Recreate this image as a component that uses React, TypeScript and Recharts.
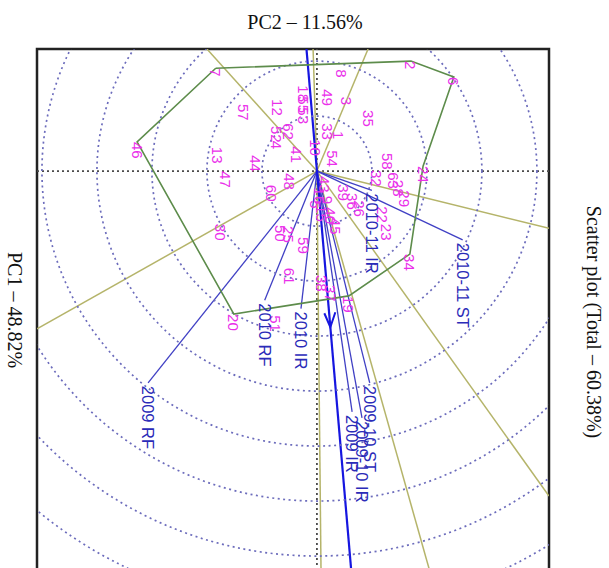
import {
  ReferenceArea,
  ReferenceDot,
  ReferenceLine,
  Scatter,
  ScatterChart,
  XAxis,
  YAxis,
} from 'recharts'

// rotated GGE biplot: PC2 runs left-right, PC1 runs top-down
const W = 609
const H = 620
const MARGIN = { top: 49, right: 60, bottom: 20, left: 37 }
const X_DOMAIN: [number, number] = [-5.09, 4.22]
const Y_DOMAIN: [number, number] = [-2.22, 7.8]
const PX_PER_UNIT = (W - MARGIN.left - MARGIN.right) / (X_DOMAIN[1] - X_DOMAIN[0])

// genotype scores [label, PC2, PC1]
const genotypes: [string, number, number][] = [
  ['7', -1.84, -1.87],
  ['2', 1.71, -2.0],
  ['6', 2.49, -1.71],
  ['8', 0.44, -1.85],
  ['49', 0.2, -1.49],
  ['3', 0.53, -1.35],
  ['35', 0.93, -1.11],
  ['18', -0.25, -1.56],
  ['55', -0.25, -1.36],
  ['53', -0.25, -1.16],
  ['57', -1.33, -1.22],
  ['12', -0.71, -1.31],
  ['62', -0.51, -0.87],
  ['52', -0.73, -0.82],
  ['4', -0.73, -0.55],
  ['41', -0.38, -0.45],
  ['10', -0.02, -0.58],
  ['33', 0.2, -0.87],
  ['1', 0.4, -0.73],
  ['54', 0.29, -0.38],
  ['46', -3.27, -0.53],
  ['13', -1.8, -0.44],
  ['47', -1.67, 0.0],
  ['44', -1.11, -0.29],
  ['48', -0.49, 0.04],
  ['60', -0.82, 0.25],
  ['30', -1.75, 0.96],
  ['50', -0.67, 0.98],
  ['25', -0.51, 1.0],
  ['59', -0.24, 1.2],
  ['61', -0.49, 1.76],
  ['20', -1.51, 2.6],
  ['51', -0.75, 2.62],
  ['38', 0.09, 1.89],
  ['37', 0.25, 2.07],
  ['19', 0.58, 2.27],
  ['34', 1.69, 1.51],
  ['24', 1.93, -0.09],
  ['58', 1.29, -0.33],
  ['32', 1.09, -0.02],
  ['63', 1.4, 0.02],
  ['28', 1.49, 0.16],
  ['29', 1.6, 0.35],
  ['39', 0.49, 0.24],
  ['36', 0.65, 0.4],
  ['26', 0.78, 0.53],
  ['22', 1.2, 0.64],
  ['23', 1.27, 0.96],
  ['43', 0.13, 0.09],
  ['5', -0.02, 0.53],
  ['45', 0.33, 0.85],
  ['15', 0.09, 0.62],
  ['9', 0.2, 0.45],
  ['16', 0.05, 0.3],
  ['40', 0.24, 0.66],
]

// convex hull (which-won-where polygon)
const hullOrder = ['7', '2', '6', '24', '34', '19', '20', '46', '7']

// environment vectors [label, PC2, PC1]
const environments: [string, number, number][] = [
  ['2010-11 ST', 2.65, 1.25],
  ['2010-11 IR', 1.0, 0.35],
  ['2010 IR', -0.29, 2.5],
  ['2010 RF', -0.95, 2.35],
  ['2009 RF', -3.07, 3.85],
  ['2009-10 ST', 0.96, 3.85],
  ['2009 IR', 0.64, 4.38],
  ['2009-10 IR', 0.82, 4.49],
]

// sector boundaries, perpendicular to hull edges, drawn from origin
const sectorRays: [number, number][] = [
  [-2.0, -2.22],
  [-0.07, -2.22],
  [0.93, -2.22],
  [4.22, 1.04],
  [4.22, 5.91],
  [2.2, 7.8],
  [0.08, 7.8],
  [-5.09, 2.87],
]

// average environment axis
const aecLine: [number, number][] = [
  [-0.19, -2.22],
  [0.67, 7.8],
]
const aecArrow = [{ x: 0.244, y: 2.84 }]

const ringRadii = [1, 2, 3, 4, 5, 6, 7, 8]

const genoData = genotypes.map(([name, x, y]) => ({ name, x, y }))
const envData = environments.map(([name, x, y]) => ({ name, x, y }))
const hullData = hullOrder.map((n) => {
  const g = genotypes.find((d) => d[0] === n)!
  return { x: g[1], y: g[2] }
})

const MAGENTA = '#ea30ea'
const BLUE = '#2b2bb8'

function GenoLabel(props: any) {
  const { cx, cy, payload } = props
  return (
    <text
      x={cx}
      y={cy}
      transform={`rotate(90 ${cx} ${cy})`}
      fill={MAGENTA}
      fontSize={15}
      fontFamily="'Liberation Sans', Arial, sans-serif"
      dominantBaseline="central"
    >
      {payload.name}
    </text>
  )
}

function EnvLabel(props: any) {
  const { cx, cy, payload } = props
  return (
    <text
      x={cx + 3}
      y={cy}
      transform={`rotate(90 ${cx} ${cy})`}
      fill={BLUE}
      fontSize={16.5}
      fontFamily="'Liberation Sans', Arial, sans-serif"
      dominantBaseline="central"
    >
      {payload.name}
    </text>
  )
}

function ArrowHead(props: any) {
  const { cx, cy } = props
  return (
    <path
      d={`M${cx - 6},${cy - 14} L${cx},${cy} L${cx + 5},${cy - 15}`}
      fill="none"
      stroke="#1616e0"
      strokeWidth={2}
    />
  )
}

export default function App() {
  return (
    <div
      style={{
        position: 'absolute',
        left: 0,
        top: 0,
        width: 609,
        height: 568,
        overflow: 'hidden',
        background: '#fff',
      }}
    >
      <ScatterChart width={W} height={H} margin={MARGIN}>
        <XAxis type="number" dataKey="x" domain={X_DOMAIN} hide allowDataOverflow />
        <YAxis type="number" dataKey="y" domain={Y_DOMAIN} reversed hide allowDataOverflow />

        {ringRadii.map((r) => (
          <ReferenceDot
            key={r}
            x={0}
            y={0}
            r={r * PX_PER_UNIT}
            fill="none"
            stroke="#6c6cbc"
            strokeWidth={1.7}
            strokeDasharray="2 3.5"
            ifOverflow="hidden"
          />
        ))}

        <ReferenceLine y={0} stroke="#4a4a4a" strokeWidth={1.8} strokeDasharray="2 3" />
        <ReferenceLine x={0} stroke="#4a4a4a" strokeWidth={1.8} strokeDasharray="2 3" />

        {sectorRays.map(([x, y], i) => (
          <ReferenceLine
            key={i}
            segment={[
              { x: 0, y: 0 },
              { x, y },
            ]}
            stroke="#b5b46a"
            strokeWidth={1.5}
            ifOverflow="hidden"
          />
        ))}

        <Scatter
          data={hullData}
          line={{ stroke: '#5d8c4b', strokeWidth: 1.6 }}
          shape={() => <g />}
          isAnimationActive={false}
        />

        {envData.map((e) => (
          <ReferenceLine
            key={e.name}
            segment={[
              { x: 0, y: 0 },
              { x: e.x, y: e.y },
            ]}
            stroke="#4040c4"
            strokeWidth={1.3}
            ifOverflow="hidden"
          />
        ))}

        <ReferenceLine
          segment={[
            { x: aecLine[0][0], y: aecLine[0][1] },
            { x: aecLine[1][0], y: aecLine[1][1] },
          ]}
          stroke="#1616e0"
          strokeWidth={2.2}
          ifOverflow="hidden"
        />
        <Scatter data={aecArrow} shape={ArrowHead} isAnimationActive={false} />

        <Scatter data={genoData} shape={GenoLabel} isAnimationActive={false} />
        <Scatter data={envData} shape={EnvLabel} isAnimationActive={false} />

        <ReferenceArea
          x1={X_DOMAIN[0]}
          x2={X_DOMAIN[1]}
          y1={Y_DOMAIN[0]}
          y2={Y_DOMAIN[1]}
          fill="none"
          stroke="#222"
          strokeWidth={2.5}
          ifOverflow="visible"
        />
      </ScatterChart>

      <svg
        width={609}
        height={568}
        style={{ position: 'absolute', left: 0, top: 0, pointerEvents: 'none' }}
        fontFamily="'Liberation Serif', 'Times New Roman', serif"
        fontSize={20}
        fill="#111"
      >
        <text x={305} y={22} textAnchor="middle" dominantBaseline="central">
          PC2 – 11.56%
        </text>
        <text
          x={15}
          y={310}
          textAnchor="middle"
          dominantBaseline="central"
          transform="rotate(90 15 310)"
        >
          PC1 – 48.82%
        </text>
        <text
          x={594}
          y={322}
          textAnchor="middle"
          dominantBaseline="central"
          transform="rotate(90 594 322)"
        >
          Scatter plot (Total – 60.38%)
        </text>
      </svg>
    </div>
  )
}
